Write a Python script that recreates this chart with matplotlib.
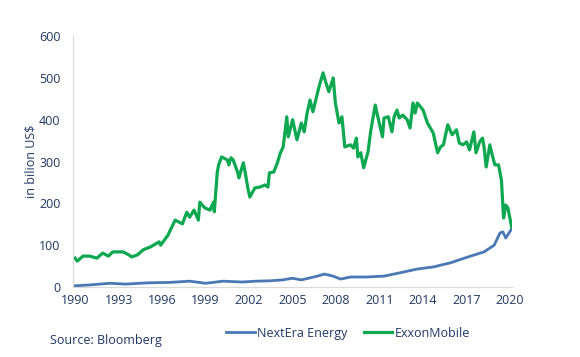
import numpy as np
import matplotlib.pyplot as plt

# market cap, billion US$
xom_year = [1990.0, 1990.15, 1990.55, 1991.0, 1991.5, 1991.9, 1992.3, 1992.6, 1993.3, 1993.7,
            1993.9, 1994.3, 1994.7, 1995.2, 1995.8, 1995.9, 1996.4, 1996.9, 1997.4, 1997.7,
            1997.9, 1998.2, 1998.5, 1998.6, 1998.95, 1999.3, 1999.55, 1999.6, 1999.8, 1999.9,
            2000.1, 2000.5, 2000.6, 2000.75, 2000.9, 2001.2, 2001.3, 2001.6, 2001.7, 2001.9,
            2002.05, 2002.4, 2002.75, 2003.1, 2003.3, 2003.4, 2003.7, 2003.95, 2004.15, 2004.35,
            2004.6, 2004.7, 2005.0, 2005.3, 2005.6, 2005.8, 2006.0, 2006.2, 2006.4, 2006.8,
            2007.1, 2007.3, 2007.5, 2007.8, 2007.95, 2008.2, 2008.4, 2008.6, 2009.0, 2009.2,
            2009.4, 2009.5, 2009.7, 2009.9, 2010.2, 2010.4, 2010.7, 2010.85, 2011.2, 2011.3,
            2011.6, 2011.85, 2012.0, 2012.2, 2012.35, 2012.6, 2012.9, 2013.1, 2013.3, 2013.45,
            2013.6, 2014.0, 2014.3, 2014.7, 2015.0, 2015.2, 2015.4, 2015.7, 2016.0, 2016.3,
            2016.5, 2016.75, 2017.0, 2017.2, 2017.5, 2017.65, 2017.9, 2018.1, 2018.2, 2018.35,
            2018.6, 2018.8, 2018.95, 2019.2, 2019.4, 2019.55, 2019.7, 2019.85, 2020.1]
xom_cap = [69, 62, 74, 74, 69, 81, 74, 84, 84, 77,
           72, 77, 89, 96, 108, 100, 124, 160, 151, 179,
           167, 184, 160, 203, 189, 184, 203, 180, 273, 292,
           311, 304, 292, 309, 304, 275, 261, 297, 280, 239,
           215, 237, 239, 244, 239, 273, 275, 297, 320, 335,
           407, 359, 400, 352, 392, 371, 416, 447, 419, 476,
           512, 488, 467, 500, 440, 392, 407, 335, 340, 332,
           356, 311, 321, 285, 323, 376, 435, 411, 359, 404,
           407, 371, 407, 423, 404, 411, 400, 380, 440, 416,
           440, 423, 392, 368, 321, 335, 340, 388, 364, 376,
           344, 340, 347, 328, 371, 321, 347, 356, 335, 287,
           340, 311, 292, 292, 256, 165, 196, 189, 144]

nee_year = [1990.0, 1991.0, 1992.4, 1993.5, 1995.0, 1996.5, 1997.9, 1999.0, 1999.5, 2000.2,
            2001.5, 2002.5, 2003.5, 2004.3, 2005.0, 2005.6, 2006.7, 2007.2, 2007.8, 2008.3,
            2009.0, 2010.1, 2011.3, 2012.4, 2013.6, 2014.7, 2015.9, 2017.1, 2018.2, 2018.9,
            2019.3, 2019.5, 2019.7, 2020.1]
nee_cap = [3, 5, 9, 7, 10, 11, 14, 9, 11, 14,
           12, 14, 15, 17, 21, 17, 26, 31, 26, 19,
           24, 24, 26, 34, 43, 48, 58, 72, 84, 100,
           129, 132, 117, 139]

years = [1990, 1993, 1996, 1999, 2002, 2005, 2008, 2011, 2014, 2017, 2020]
navy = '#1F3864'

plt.rcParams['font.family'] = ['Open Sans', 'DejaVu Sans']
fig = plt.figure(figsize=(5.8, 3.57), dpi=100)
ax = fig.add_axes([0.126, 0.196, 0.757, 0.703])

ax.plot(nee_year, nee_cap, color='#4A78B5', lw=2.0, label='NextEra Energy')
ax.plot(xom_year, xom_cap, color='#0DA84F', lw=2.3, label='ExxonMobile')

ax.set_xlim(1989.86, 2020.14)
ax.set_ylim(0, 600)
ax.set_xticks(years)
ax.set_yticks(np.arange(0, 601, 100))
ax.tick_params(length=0, labelsize=9, labelcolor=navy)
ax.tick_params(axis='x', pad=5)
ax.tick_params(axis='y', pad=9)
for s in ['top', 'right']:
    ax.spines[s].set_visible(False)
for s in ['left', 'bottom']:
    ax.spines[s].set_color('#D9D9D9')
    ax.spines[s].set_linewidth(0.8)

ax.set_ylabel('in bilion US$', fontsize=9, color=navy, labelpad=1)

fig.legend(loc='center', bbox_to_anchor=(0.6, 0.067), ncol=2, frameon=False,
           fontsize=9, handlelength=2.3, handletextpad=0.2, columnspacing=1.3,
           labelcolor=navy)
fig.text(0.086, 0.047, 'Source: Bloomberg', fontsize=9, color=navy, va='center')

fig.savefig('out.png', dpi=100)
